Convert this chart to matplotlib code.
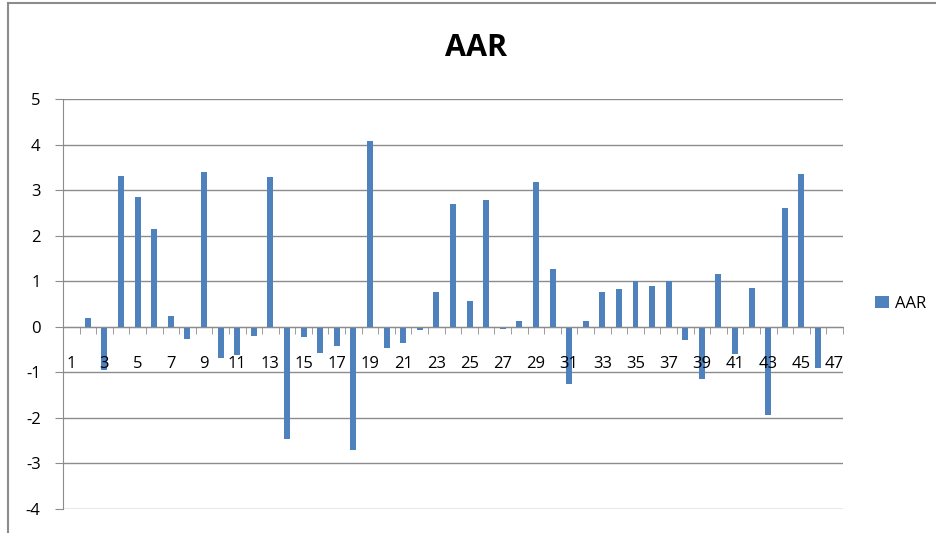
import numpy as np
import matplotlib.pyplot as plt
from matplotlib.lines import Line2D

# AAR values, days 1..47
days = list(range(1, 48))
aar = [0.00, 0.20, -0.95, 3.31, 2.85, 2.14, 0.23, -0.26, 3.41, -0.69,
       -0.62, -0.20, 3.28, -2.47, -0.22, -0.58, -0.41, -2.70, 4.07, -0.46,
       -0.36, -0.07, 0.76, 2.69, 0.57, 2.79, -0.05, 0.12, 3.17, 1.26,
       -1.25, 0.12, 0.76, 0.83, 1.01, 0.90, 1.01, -0.29, -1.15, 1.17,
       -0.60, 0.85, -1.93, 2.62, 3.36, -0.91, 0.00]
yticks = list(range(-4, 6))

plt.rcParams['font.family'] = ['Open Sans', 'DejaVu Sans']

fig = plt.figure(figsize=(9.37, 5.33), dpi=100)
ax = fig.add_axes([0.0672, 0.045, 0.8324, 0.769])

ax.bar(days, aar, width=0.36, color='#4F81BD', zorder=2, label='AAR')

ax.set_xlim(0.5, 47.5)
ax.set_ylim(-4, 5)
ax.set_yticks(yticks)
ax.set_yticklabels([str(v) for v in yticks], fontsize=12)
ax.grid(axis='y', color='#8c8c8c', linewidth=1)
ax.yaxis.set_zorder(1)
ax.xaxis.set_zorder(3)  # day labels sit over the bars

# x axis crosses at zero, labels on every other category
ax.spines['bottom'].set_position(('data', 0))
ax.spines['bottom'].set_color('#8c8c8c')
ax.spines['left'].set_color('#8c8c8c')
ax.spines['top'].set_visible(False)
ax.spines['right'].set_visible(False)
ax.set_xticks(days[::2])
ax.set_xticklabels([str(d) for d in days[::2]], fontsize=12)
ax.tick_params(axis='x', length=0, pad=21)
ax.set_xticks(np.arange(0.5, 48, 1), minor=True)
ax.tick_params(axis='x', which='minor', length=5, color='#8c8c8c', direction='out')
ax.tick_params(axis='y', length=6, color='#8c8c8c', pad=10)

fig.text(0.508, 0.91, 'AAR', ha='center', va='center', fontsize=22, fontweight='bold')

ax.legend(loc='center left', bbox_to_anchor=(0.927, 0.43), bbox_transform=fig.transFigure,
          frameon=False, fontsize=12, handlelength=0.8, handleheight=0.8,
          handletextpad=0.4, borderaxespad=0)

# chart border
fig.add_artist(Line2D([0.0085, 0.0085], [0, 0.994], transform=fig.transFigure, color='#8c8c8c', lw=1.5))
fig.add_artist(Line2D([0.0085, 1], [0.994, 0.994], transform=fig.transFigure, color='#8c8c8c', lw=1.5))

fig.savefig('out.png', dpi=100)
